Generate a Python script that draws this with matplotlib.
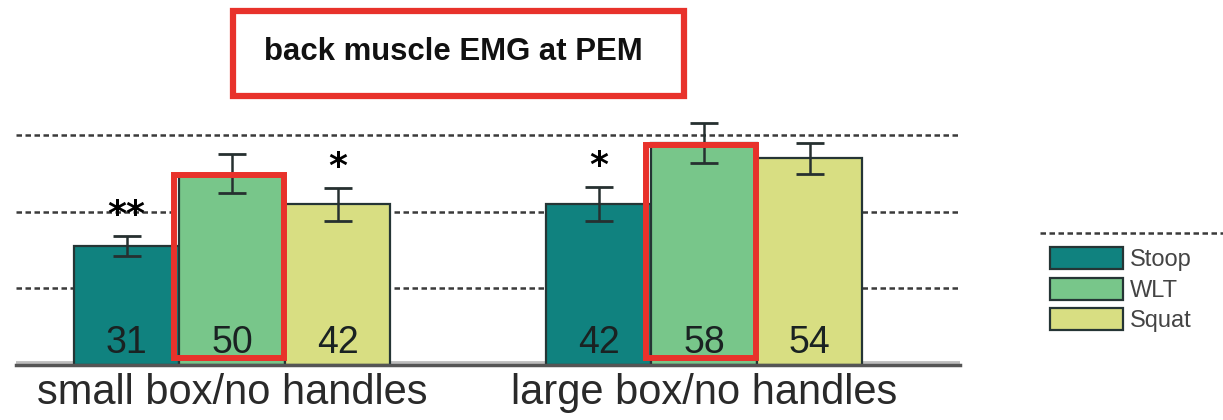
import matplotlib.pyplot as plt
import numpy as np
from matplotlib.patches import Rectangle
from matplotlib.lines import Line2D
from matplotlib import font_manager

plt.rcParams['font.family'] = ['Liberation Sans', 'DejaVu Sans']

# data
groups = ['small box/no handles', 'large box/no handles']
series = ['Stoop', 'WLT', 'Squat']
values = {
    'Stoop': [31, 42],
    'WLT': [50, 58],
    'Squat': [42, 54],
}
errors = {
    'Stoop': [2.6, 4.4],
    'WLT': [5.1, 5.2],
    'Squat': [4.3, 4.0],
}
stars = {
    'Stoop': ['**', '*'],
    'WLT': ['', ''],
    'Squat': ['*', ''],
}
colors = {'Stoop': '#10827f', 'WLT': '#78c68a', 'Squat': '#d8de82'}
highlight = 'WLT'
title = 'back muscle EMG at PEM'
red = '#e8322b'

# narrow face for the small labels if there is one
names = {f.name for f in font_manager.fontManager.ttflist}
narrow = 'Liberation Sans Narrow' if 'Liberation Sans Narrow' in names else 'Liberation Sans'
print(narrow)

fig = plt.figure(figsize=(12.23, 4.2), dpi=100)
W, H = 1223, 420
# axes: x 16..960 px, baseline at y=365 px, 3.83 px per unit
ymax = 70
ax = fig.add_axes([16 / W, 55 / H, (960 - 16) / W, ymax * 3.83 / H])

x = np.arange(len(groups))
w = 0.2235
handles = []
for i, s in enumerate(series):
    pos = x + (i - 1) * w
    b = ax.bar(pos, values[s], w, color=colors[s], edgecolor='#253535',
               linewidth=1.6, zorder=3, label=s)
    handles.append(b)
    ax.errorbar(pos, values[s], yerr=errors[s], fmt='none', ecolor='#263030',
                elinewidth=1.8, capsize=10, capthick=2, zorder=4)
    for p, v, e, st in zip(pos, values[s], errors[s], stars[s]):
        ax.text(p, 3.1, str(v), ha='center', va='baseline', fontsize=27,
                color='#1a2222', zorder=5, family=narrow)
        if st:
            ax.text(p, v + e + 5.5, st, ha='center', va='center',
                    fontsize=26, fontweight='bold', color='black', zorder=5,
                    family='DejaVu Sans')
    if s == highlight:
        for p, v in zip(pos, values[s]):
            ax.add_patch(Rectangle((p - w / 2 - 0.0105, 1.8),
                                   w + 0.008, v - 2.3, fill=False,
                                   edgecolor=red, linewidth=4.3, zorder=6))

ax.set_xlim(-0.4576, 1.542)
ax.set_ylim(0, ymax)
dash = (0, (2.2, 1.4))
for gy in [20, 40, 60]:
    ax.axhline(gy, color='#3a3a3a', linewidth=1.8, linestyle=dash, zorder=1)
ax.axhline(0.8, color='#bdbdbd', linewidth=2, zorder=1)
ax.set_yticks([])
ax.set_xticks(x)
ax.set_xticklabels(groups, fontsize=30, color='#2a2a2a')
ax.tick_params(axis='x', length=0, pad=6)
for sp in ['top', 'right', 'left']:
    ax.spines[sp].set_visible(False)
ax.spines['bottom'].set_color('#555555')
ax.spines['bottom'].set_linewidth(2.5)
ax.spines['bottom'].set_zorder(7)

# title box
fig.add_artist(Rectangle((233 / W, 1 - 96 / H), (684 - 233) / W, (96 - 11) / H,
                         transform=fig.transFigure, fill=False,
                         edgecolor=red, linewidth=4.5))
fig.text(453 / W, 1 - 52 / H, title, ha='center', va='center', fontsize=22.4,
         fontweight='bold', color='#111111')

# legend
fig.add_artist(Line2D([1040 / W, 1], [1 - 233 / H] * 2, transform=fig.transFigure,
                      color='#3a3a3a', linewidth=1.8, linestyle=dash))
leg = fig.legend(handles=handles, labels=series, loc='upper left',
                 bbox_to_anchor=(1050 / W, 1 - 247 / H), frameon=False,
                 fontsize=17, handlelength=3.1, handleheight=1.05,
                 handletextpad=0.3, labelspacing=0.28, borderpad=0,
                 borderaxespad=0, prop={'family': narrow, 'size': 17})
for t in leg.get_texts():
    t.set_color('#444444')

fig.savefig('out.png', dpi=100)
